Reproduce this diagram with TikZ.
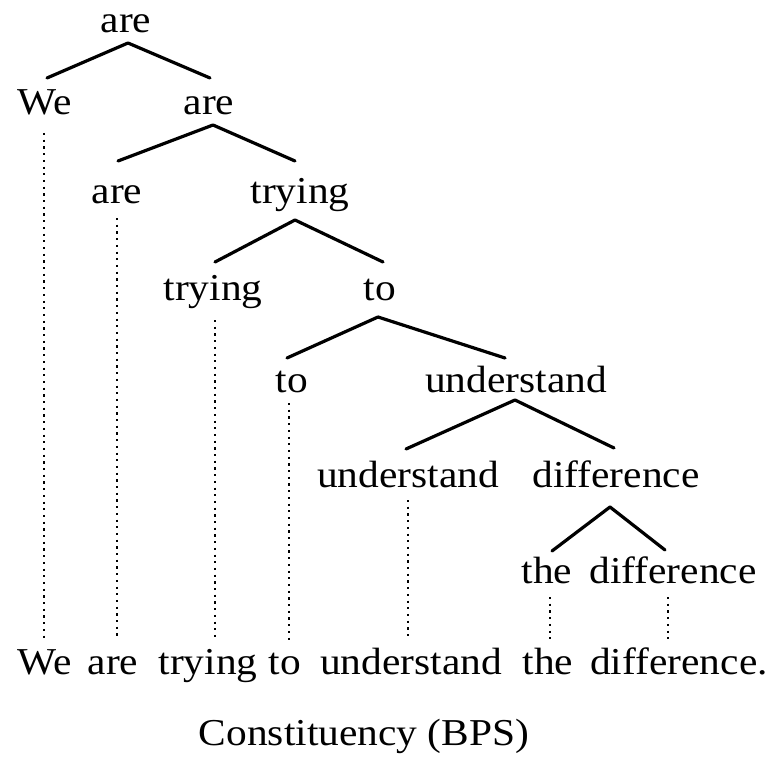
\documentclass[tikz,border=0pt]{standalone}
\usepackage{fontspec}
\setmainfont[FakeStretch=1.09]{Liberation Serif}
\begin{document}
\begin{tikzpicture}[x=1pt,y=-1pt,
  word/.style={anchor=base,inner sep=0pt,font=\fontsize{38}{42}\selectfont},
  branch/.style={line width=3.2pt,line cap=round,line join=round},
  proj/.style={line width=2.2pt,dash pattern=on 2.2pt off 4.5pt}]
\useasboundingbox (0,0) rectangle (783,762);
% tree words
\node[word] (r0) at (126,33) {are};
\node[word] (r1a) at (45,115) {We};
\node[word] (r1b) at (209,115) {are};
\node[word] (r2a) at (117,203) {are};
\node[word] (r2b) at (300,203) {trying};
\node[word] (r3a) at (213,300) {trying};
\node[word] (r3b) at (380,300) {to};
\node[word] (r4a) at (292,392) {to};
\node[word] (r4b) at (516,392) {understand};
\node[word] (r5a) at (408,487) {understand};
\node[word] (r5b) at (616,487) {difference};
\node[word] (r6a) at (547,583) {the};
\node[word] (r6b) at (673,583) {difference};
% sentence
\node[word] (s1) at (45,674) {We};
\node[word] (s2) at (113,674) {are};
\node[word] (s3) at (208,674) {trying};
\node[word] (s4) at (285,674) {to};
\node[word] (s5) at (411,674) {understand};
\node[word] (s6) at (548,674) {the};
\node[word] (s7) at (679,674) {difference.};
\node[word] (cap) at (364,745) {Constituency (BPS)};
% branch points
\coordinate (a0) at (128,43);  \coordinate (l0) at (47,78);   \coordinate (q0) at (210,78);
\coordinate (a1) at (213,125); \coordinate (l1) at (118,161); \coordinate (q1) at (295,161);
\coordinate (a2) at (295,220); \coordinate (l2) at (215,262); \coordinate (q2) at (383,262);
\coordinate (a3) at (378,317); \coordinate (l3) at (287,358); \coordinate (q3) at (505,358);
\coordinate (a4) at (515,400); \coordinate (l4) at (406,449); \coordinate (q4) at (614,448);
\coordinate (a5) at (610,507); \coordinate (l5) at (552,551); \coordinate (q5) at (665,550);
\draw[branch] (l0) -- (a0) -- (q0);
\draw[branch] (l1) -- (a1) -- (q1);
\draw[branch] (l2) -- (a2) -- (q2);
\draw[branch] (l3) -- (a3) -- (q3);
\draw[branch] (l4) -- (a4) -- (q4);
\draw[branch] (l5) -- (a5) -- (q5);
% projection lines
\coordinate (d1t) at (44,133);  \coordinate (d1b) at (44,640);
\coordinate (d2t) at (117,218); \coordinate (d2b) at (117,640);
\coordinate (d3t) at (215,320); \coordinate (d3b) at (215,640);
\coordinate (d4t) at (289,403); \coordinate (d4b) at (289,640);
\coordinate (d5t) at (408,500); \coordinate (d5b) at (408,640);
\coordinate (d6t) at (550,597); \coordinate (d6b) at (550,640);
\coordinate (d7t) at (668,597); \coordinate (d7b) at (668,640);
\foreach \i in {1,...,7} {\draw[proj] (d\i t) -- (d\i b);}
\end{tikzpicture}
\end{document}
